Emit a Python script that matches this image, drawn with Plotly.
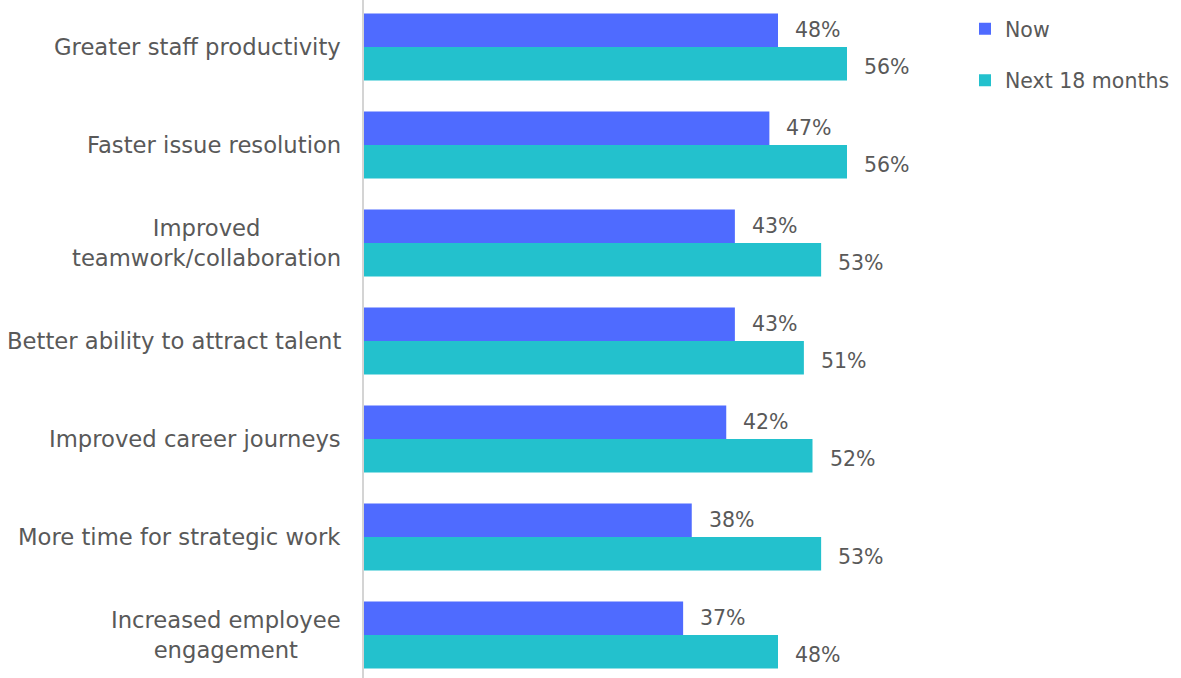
import plotly.graph_objects as go

categories = ["Greater staff productivity", "Faster issue resolution",
              "Improved<br>teamwork/collaboration", "Better ability to attract talent",
              "Improved career journeys", "More time for strategic work",
              "Increased employee<br>engagement"]
now_vals = [48, 47, 43, 43, 42, 38, 37]
next_vals = [56, 56, 53, 51, 52, 53, 48]
series_names = ["Now", "Next 18 months"]
colors = ["#4F6BFF", "#23C1CD"]

FONT = "DejaVu Sans"
GRAY = "#595959"

fig = go.Figure()
fig.add_trace(go.Bar(y=categories, x=now_vals, orientation="h", name=series_names[0],
                     marker=dict(color=colors[0], line=dict(width=0)), legendgroup="a"))
fig.add_trace(go.Bar(y=categories, x=next_vals, orientation="h", name=series_names[1],
                     marker=dict(color=colors[1], line=dict(width=0)), legendgroup="b"))

annotations = []
for i, c in enumerate(categories):
    annotations.append(dict(x=0, xref="paper", y=c, yref="y", text=c, showarrow=False,
                            xanchor="right", yanchor="middle", align="center", xshift=-21,
                            font=dict(family=FONT, size=22.7, color=GRAY)))
    for vals, off, ys in ((now_vals, -0.17, 0), (next_vals, 0.17, -3)):
        annotations.append(dict(x=vals[i], xref="x", y=i + off, yref="y", text=f"{vals[i]}%",
                                showarrow=False, xanchor="left", yanchor="middle", xshift=15,
                                yshift=ys, font=dict(family=FONT, size=20.5, color=GRAY)))

fig.update_layout(
    width=1181, height=678,
    margin=dict(l=364, r=0, t=0, b=0, autoexpand=False),
    paper_bgcolor="white", plot_bgcolor="white",
    barmode="group", bargap=0.316, bargroupgap=0,
    xaxis=dict(range=[0, 817 / 8.625], showgrid=False, zeroline=False, showticklabels=False,
               showline=False),
    yaxis=dict(range=[6.44, -0.48], showgrid=False, zeroline=False, showticklabels=False,
               showline=True, linecolor="#D4D4D4", linewidth=2, ticks=""),
    legend=dict(x=965 / 1181, y=0.987, xref="container", yref="container",
                xanchor="left", yanchor="top",
                font=dict(family=FONT, size=20.5, color=GRAY), itemwidth=30,
                traceorder="grouped", tracegroupgap=22, bgcolor="rgba(0,0,0,0)"),
    annotations=annotations,
    font=dict(family=FONT, color=GRAY),
)

fig.write_html("out.html")
